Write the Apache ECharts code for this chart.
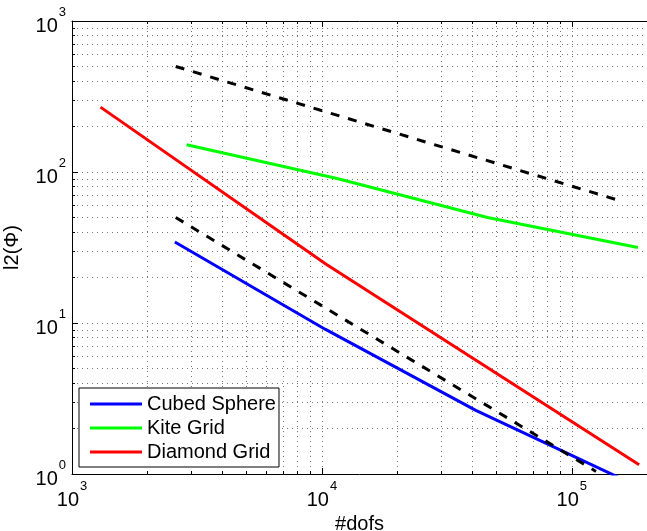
<!DOCTYPE html>
<html>
<head>
<meta charset="utf-8">
<script src="https://cdn.jsdelivr.net/npm/echarts@6/dist/echarts.min.js"></script>
<style>
  html, body { margin: 0; padding: 0; background: #fff; }
  #chart { width: 647px; height: 531px; }
</style>
</head>
<body>
<div id="chart"></div>
<script>
// Error l2(Phi) against number of degrees of freedom, log-log
const seriesNames = ['Cubed Sphere', 'Kite Grid', 'Diamond Grid'];
const dofsCubed = [2580, 10300, 41300, 165000];
const errCubed = [34.4, 9.1, 2.64, 0.9];
const dofsKite = [2875, 11500, 46000, 184000];
const errKite = [151.7, 90.6, 50, 31.6];
const dofsDiamond = [1300, 10400, 186000];
const errDiamond = [269, 24.5, 1.15];

// reference slopes (order 1/2 and order 1)
const dofsRefHalf = [2600, 160000];
const errRefHalf = [500, 63.7];
const dofsRefOne = [2600, 125000];
const errRefOne = [50, 1.04];

// axis ticks
const xMajorTicks = [1e3, 1e4, 1e5];
const yMajorTicks = [1, 10, 100, 1000];
const xMin = 1e3, xMax = 2e5, yMin = 1, yMax = 1e3;

function minorTicks(lo, hi) {
  const out = [];
  for (let d = lo; d < hi; d *= 10) {
    for (let k = 2; k <= 9; k++) {
      const v = d * k;
      if (v > lo && v < hi) out.push(v);
    }
  }
  return out;
}
const xMinorTicks = minorTicks(1e3, 1e6);
const yMinorTicks = minorTicks(1, 1e3);

const pairs = (xs, ys) => xs.map((x, i) => [x, ys[i]]);

const FONT = 'Liberation Sans';
const gridLine = { show: true, lineStyle: { color: '#777', width: 1, type: [1, 4] } };
const supLabel = v => '{b|10}{s|' + Math.round(Math.log10(v)) + '}';
const richSup = {
  b: { fontSize: 20, fontFamily: FONT, color: '#000', lineHeight: 30, verticalAlign: 'bottom' },
  s: { fontSize: 13, fontFamily: FONT, color: '#000', lineHeight: 30, verticalAlign: 'top', padding: [0, 0, 0, 1] }
};

function logAxis(base, extra) {
  return Object.assign({
    type: 'log', logBase: 10, min: base.min, max: base.max,
    axisLine: { show: false }, axisTick: { show: false }, axisLabel: { show: false },
    splitLine: { show: false }, minorTick: { show: false }, minorSplitLine: { show: false }
  }, extra);
}
const xb = { min: xMin, max: xMax };
const yb = { min: yMin, max: yMax };
const blackLine = { show: true, onZero: false, lineStyle: { color: '#000', width: 1 } };

const chart = echarts.init(document.getElementById('chart'), null, { renderer: 'canvas' });
chart.setOption({
  animation: false,
  backgroundColor: '#fff',
  grid: { left: 72, top: 21, width: 575, height: 453, containLabel: false, outerBoundsMode: 'none' },
  xAxis: [
    logAxis(xb, {
      position: 'bottom', axisLine: blackLine,
      axisTick: { show: true, inside: true, length: 6, customValues: xMajorTicks, lineStyle: { color: '#000' } },
      axisLabel: { show: true, customValues: xMajorTicks, formatter: supLabel, rich: richSup, margin: 6 },
      splitLine: gridLine,
      name: '#dofs', nameLocation: 'middle', nameGap: 36,
      nameTextStyle: { fontSize: 20, fontFamily: FONT, color: '#000' }
    }),
    logAxis(xb, {
      position: 'bottom',
      axisTick: { show: true, inside: true, length: 3, customValues: xMinorTicks, lineStyle: { color: '#000' } },
      splitLine: gridLine
    }),
    logAxis(xb, {
      position: 'top', axisLine: blackLine,
      axisTick: { show: true, inside: true, length: 6, customValues: xMajorTicks, lineStyle: { color: '#000' } }
    }),
    logAxis(xb, {
      position: 'top',
      axisTick: { show: true, inside: true, length: 3, customValues: xMinorTicks, lineStyle: { color: '#000' } }
    })
  ],
  yAxis: [
    logAxis(yb, {
      position: 'left', axisLine: blackLine,
      axisTick: { show: true, inside: true, length: 6, customValues: yMajorTicks, lineStyle: { color: '#000' } },
      axisLabel: { show: true, customValues: yMajorTicks, formatter: supLabel, rich: richSup, margin: 6 },
      splitLine: gridLine,
      name: 'l2(Φ)', nameLocation: 'middle', nameGap: 50, nameRotate: 90,
      nameTextStyle: { fontSize: 20, fontFamily: FONT, color: '#000' }
    }),
    logAxis(yb, {
      position: 'left',
      axisTick: { show: true, inside: true, length: 3, customValues: yMinorTicks, lineStyle: { color: '#000' } },
      splitLine: gridLine
    })
  ],
  legend: {
    data: seriesNames,
    orient: 'vertical', left: 79, top: 388,
    padding: [6, 3, 5, 11], itemGap: 4,
    itemWidth: 52, itemHeight: 3, icon: 'rect',
    textStyle: { fontSize: 20, lineHeight: 20, fontFamily: FONT, color: '#000' },
    borderColor: '#000', borderWidth: 1, borderRadius: 0, backgroundColor: '#fff'
  },
  series: [
    { name: 'Cubed Sphere', type: 'line', data: pairs(dofsCubed, errCubed), color: '#0000ff' },
    { name: 'Kite Grid', type: 'line', data: pairs(dofsKite, errKite), color: '#00ff00' },
    { name: 'Diamond Grid', type: 'line', data: pairs(dofsDiamond, errDiamond), color: '#ff0000' },
    { name: 'ref 1/2', type: 'line', data: pairs(dofsRefHalf, errRefHalf), color: '#000',
      lineStyle: { type: [9, 9], width: 3 } },
    { name: 'ref 1', type: 'line', data: pairs(dofsRefOne, errRefOne), color: '#000',
      lineStyle: { type: [9, 9], width: 3 } }
  ].map(s => Object.assign({
    xAxisIndex: 0, yAxisIndex: 0, showSymbol: false, symbol: 'none', clip: true
  }, s, { lineStyle: Object.assign({ width: 3 }, s.lineStyle || {}) }))
});
</script>
</body>
</html>
